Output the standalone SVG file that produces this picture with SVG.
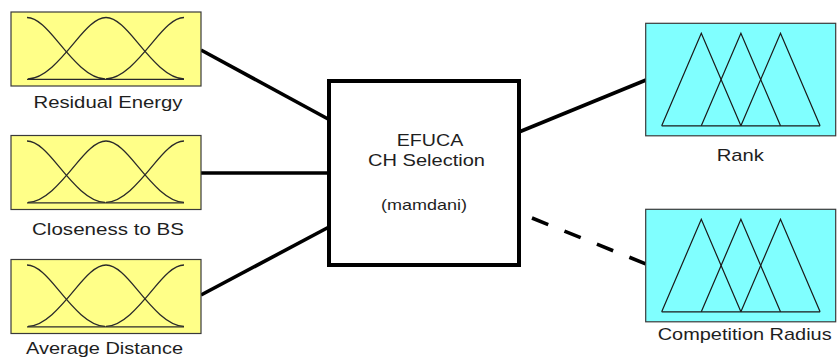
<svg xmlns="http://www.w3.org/2000/svg" xmlns:xlink="http://www.w3.org/1999/xlink" width="838" height="358" viewBox="0 0 838 358">
  <style>
    .inbox { fill: #FFFF88; stroke: #3a3a3a; stroke-width: 1.2; }
    .outbox { fill: #80FFFF; stroke: #3a3a3a; stroke-width: 1.2; }
    .mf { fill: none; stroke: #2a2a2a; stroke-width: 1.3; stroke-linejoin: round; }
    .tri { fill: none; stroke: #1a1a1a; stroke-width: 1.2; stroke-linejoin: miter; }
    .lbl { font-family: "Liberation Sans", Arial, sans-serif; font-size: 17px; fill: #1e1e1e; text-anchor: middle; }
    .conn { stroke: #000; stroke-width: 3.6; fill: none; }
    .dash { stroke-dasharray: 17.5 17.5; }
    .core { fill: #fff; stroke: #000; stroke-width: 4; }
  </style>
  <defs>
    <path id="half" d="M0,0 C10.3,0 20.7,11.9 31,24.4 C46,42.6 62,61.3 78,61.3"/>
    <g id="gauss">
      <rect class="inbox" x="0" y="0" width="190" height="74"/>
      <use xlink:href="#half" class="mf" transform="translate(16,5.5)"/>
      <use xlink:href="#half" class="mf" transform="translate(95,5.5)"/>
      <use xlink:href="#half" class="mf" transform="translate(95,5.5) scale(-1,1)"/>
      <use xlink:href="#half" class="mf" transform="translate(173,5.5) scale(-1,1)"/>
      <line class="mf" x1="16" y1="67.3" x2="173" y2="67.3" stroke-width="1.6"/>
    </g>
    <g id="tris">
      <rect class="outbox" x="0" y="0" width="190" height="112.5"/>
      <polyline class="tri" points="16,102.5 55.6,10 95.2,102.5"/>
      <polyline class="tri" points="55.6,102.5 95.2,10 134.8,102.5"/>
      <polyline class="tri" points="95.2,102.5 134.8,10 174.4,102.5"/>
      <line class="tri" x1="16" y1="102.5" x2="174.4" y2="102.5"/>
    </g>
  </defs>

  <g id="connectors">
    <line class="conn" x1="201" y1="50" x2="329" y2="119.5"/>
    <line class="conn" x1="201" y1="173" x2="329" y2="173"/>
    <line class="conn" x1="201" y1="295" x2="329" y2="227"/>
    <line class="conn" x1="519" y1="132" x2="646" y2="80"/>
    <line class="conn dash" x1="532" y1="218" x2="646" y2="264"/>
  </g>

  <g id="residual-energy">
    <use xlink:href="#gauss" transform="translate(11,12)"/>
    <text class="lbl" x="108" y="107.5" textLength="149" lengthAdjust="spacingAndGlyphs">Residual Energy</text>
  </g>
  <g id="closeness-to-bs">
    <use xlink:href="#gauss" transform="translate(11,135.5)"/>
    <text class="lbl" x="108" y="234.5" textLength="152" lengthAdjust="spacingAndGlyphs">Closeness to BS</text>
  </g>
  <g id="average-distance">
    <use xlink:href="#gauss" transform="translate(11,259.5)"/>
    <text class="lbl" x="104.5" y="353.8" textLength="157" lengthAdjust="spacingAndGlyphs">Average Distance</text>
  </g>

  <g id="efuca">
    <rect class="core" x="329" y="81" width="190" height="184"/>
    <text class="lbl" x="430" y="146" textLength="66.5" lengthAdjust="spacingAndGlyphs">EFUCA</text>
    <text class="lbl" x="426.5" y="166" textLength="117" lengthAdjust="spacingAndGlyphs">CH Selection</text>
    <text class="lbl" x="424" y="209.5" style="font-size:15px" textLength="86" lengthAdjust="spacingAndGlyphs">(mamdani)</text>
  </g>

  <g id="rank">
    <use xlink:href="#tris" transform="translate(645.7,23.3)"/>
    <text class="lbl" x="740.3" y="160.7" textLength="47.3" lengthAdjust="spacingAndGlyphs">Rank</text>
  </g>
  <g id="competition-radius">
    <use xlink:href="#tris" transform="translate(645.7,209.3)"/>
    <text class="lbl" x="744.7" y="340" textLength="174" lengthAdjust="spacingAndGlyphs">Competition Radius</text>
  </g>
</svg>
